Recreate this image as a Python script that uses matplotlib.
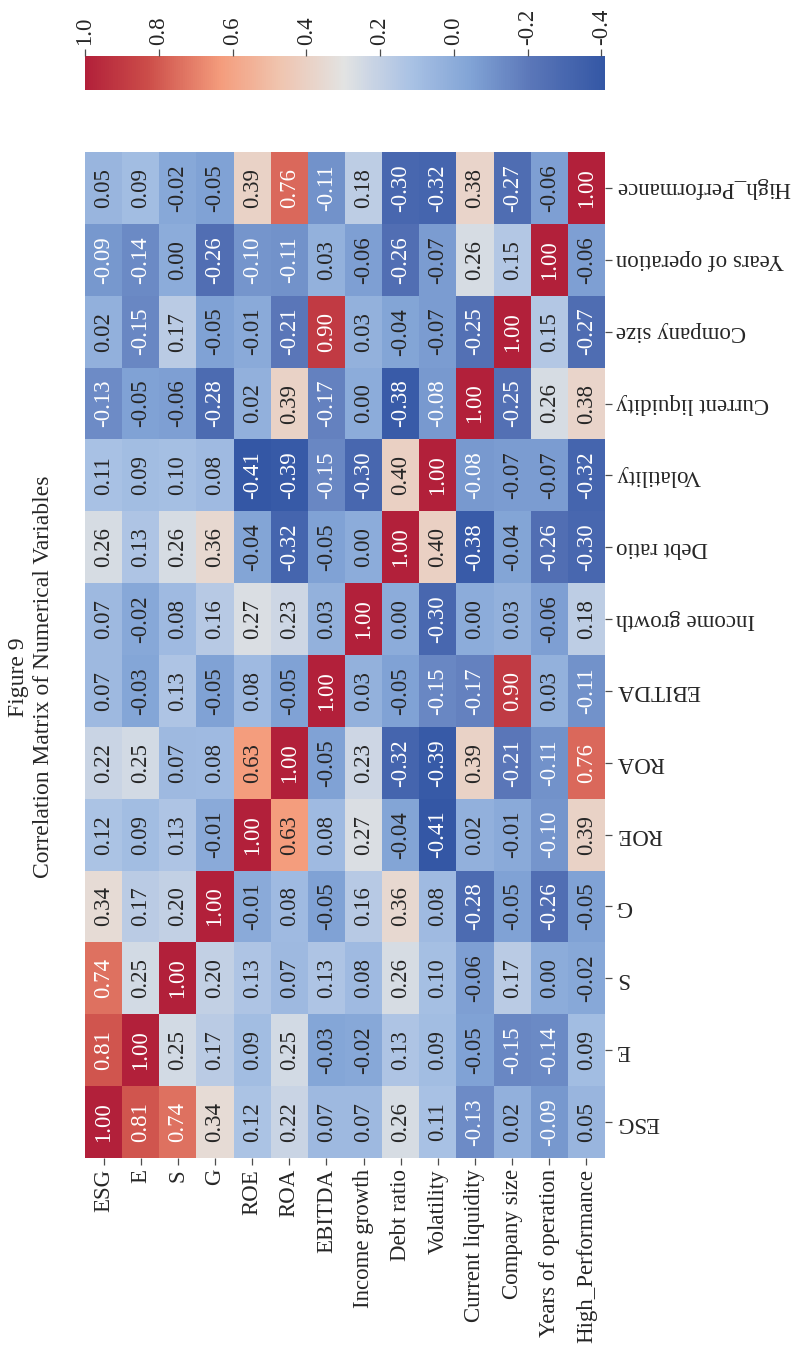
import numpy as np
import matplotlib
matplotlib.use("Agg")
import matplotlib.pyplot as plt
from matplotlib.colors import to_rgb, LinearSegmentedColormap

plt.rcParams["font.family"] = ["Liberation Serif", "DejaVu Serif"]

variables = ["ESG", "E", "S", "G", "ROE", "ROA", "EBITDA", "Income growth",
             "Debt ratio", "Volatility", "Current liquidity", "Company size",
             "Years of operation", "High_Performance"]

# correlation matrix, one row per variable (same order as above)
corr_esg      = [1.00, 0.81, 0.74, 0.34, 0.12, 0.22, 0.07, 0.07, 0.26, 0.11, -0.13, 0.02, -0.09, 0.05]
corr_e        = [0.81, 1.00, 0.25, 0.17, 0.09, 0.25, -0.03, -0.02, 0.13, 0.09, -0.05, -0.15, -0.14, 0.09]
corr_s        = [0.74, 0.25, 1.00, 0.20, 0.13, 0.07, 0.13, 0.08, 0.26, 0.10, -0.06, 0.17, 0.00, -0.02]
corr_g        = [0.34, 0.17, 0.20, 1.00, -0.01, 0.08, -0.05, 0.16, 0.36, 0.08, -0.28, -0.05, -0.26, -0.05]
corr_roe      = [0.12, 0.09, 0.13, -0.01, 1.00, 0.63, 0.08, 0.27, -0.04, -0.41, 0.02, -0.01, -0.10, 0.39]
corr_roa      = [0.22, 0.25, 0.07, 0.08, 0.63, 1.00, -0.05, 0.23, -0.32, -0.39, 0.39, -0.21, -0.11, 0.76]
corr_ebitda   = [0.07, -0.03, 0.13, -0.05, 0.08, -0.05, 1.00, 0.03, -0.05, -0.15, -0.17, 0.90, 0.03, -0.11]
corr_income   = [0.07, -0.02, 0.08, 0.16, 0.27, 0.23, 0.03, 1.00, 0.00, -0.30, 0.00, 0.03, -0.06, 0.18]
corr_debt     = [0.26, 0.13, 0.26, 0.36, -0.04, -0.32, -0.05, 0.00, 1.00, 0.40, -0.38, -0.04, -0.26, -0.30]
corr_vol      = [0.11, 0.09, 0.10, 0.08, -0.41, -0.39, -0.15, -0.30, 0.40, 1.00, -0.08, -0.07, -0.07, -0.32]
corr_liq      = [-0.13, -0.05, -0.06, -0.28, 0.02, 0.39, -0.17, 0.00, -0.38, -0.08, 1.00, -0.25, 0.26, 0.38]
corr_size     = [0.02, -0.15, 0.17, -0.05, -0.01, -0.21, 0.90, 0.03, -0.04, -0.07, -0.25, 1.00, 0.15, -0.27]
corr_years    = [-0.09, -0.14, 0.00, -0.26, -0.10, -0.11, 0.03, -0.06, -0.26, -0.07, 0.26, 0.15, 1.00, -0.06]
corr_highperf = [0.05, 0.09, -0.02, -0.05, 0.39, 0.76, -0.11, 0.18, -0.30, -0.32, 0.38, -0.27, -0.06, 1.00]

corr = np.array([corr_esg, corr_e, corr_s, corr_g, corr_roe, corr_roa, corr_ebitda,
                 corr_income, corr_debt, corr_vol, corr_liq, corr_size, corr_years,
                 corr_highperf])
n = len(variables)

# muted coolwarm (printed look)
stops = [0.00, 0.14, 0.26, 0.37, 0.44, 0.50, 0.63, 0.74, 0.88, 1.00]
stop_colors = ["#3457a5", "#5a76b8", "#82a4d6", "#a8c1e4", "#c6d2e4", "#e2e3e3",
               "#f0c3ad", "#f49c7c", "#cc4d49", "#b2203a"]
cmap = LinearSegmentedColormap.from_list("muted_coolwarm", list(zip(stops, stop_colors)))
base = plt.get_cmap("coolwarm")  # used for the annotation contrast rule

# page is turned a quarter: variables run left->right along the bottom,
# the other axis runs bottom->top
grid = corr.T[::-1]
vmin, vmax = corr.min(), corr.max()

W, H = 797, 1355
fig = plt.figure(figsize=(W / 100, H / 100), dpi=100)

def rect(x0, y0, x1, y1):
    return [x0 / W, 1 - y1 / H, (x1 - x0) / W, (y1 - y0) / H]

def luminance(c):
    lin = [v / 12.92 if v <= 0.03928 else ((v + 0.055) / 1.055) ** 2.4 for v in to_rgb(c)]
    return 0.2126 * lin[0] + 0.7152 * lin[1] + 0.0722 * lin[2]

ax = fig.add_axes(rect(85, 152, 605, 1158))
mesh = ax.pcolormesh(grid, cmap=cmap, vmin=vmin, vmax=vmax)
ax.set_xlim(0, n)
ax.set_ylim(n, 0)
for s in ax.spines.values():
    s.set_visible(False)

fs = 16.5
for i in range(n):
    for j in range(n):
        v = grid[i, j]
        col = ".15" if luminance(base((v - vmin) / (vmax - vmin))) > 0.408 else "white"
        ax.text(j + 0.5, i + 0.5, f"{v:.2f}", rotation=90, ha="center", va="center",
                fontsize=fs, color=col)

ax.set_xticks(np.arange(n) + 0.5)
ax.set_xticklabels(variables, rotation=90, fontsize=fs, color=".15")
ax.yaxis.tick_right()
ax.set_yticks(np.arange(n) + 0.5)
ax.set_yticklabels(variables[::-1], rotation=180, fontsize=fs, color=".15", va="center")
ax.tick_params(length=5, width=0.9, color=".3", pad=3)

# colour bar along the top, high values on the left
cax = fig.add_axes(rect(85, 56, 605, 90))
cb = fig.colorbar(mesh, cax=cax, orientation="horizontal")
cb.outline.set_visible(False)
cax.xaxis.set_ticks_position("top")
cticks = np.arange(-0.4, 1.01, 0.2)
cb.set_ticks(cticks)
cb.set_ticklabels([f"{t:.1f}" for t in cticks])
cax.invert_xaxis()
cax.tick_params(labelrotation=90, labelsize=fs, length=5, width=0.9, color=".3",
                labelcolor=".15", pad=3)

fig.text(31 / W, 1 - 677 / H, "Figure 9\nCorrelation Matrix of Numerical Variables",
         rotation=90, ha="center", va="center", multialignment="center",
         fontsize=17, color=".15")

fig.savefig("out.png", dpi=100)
